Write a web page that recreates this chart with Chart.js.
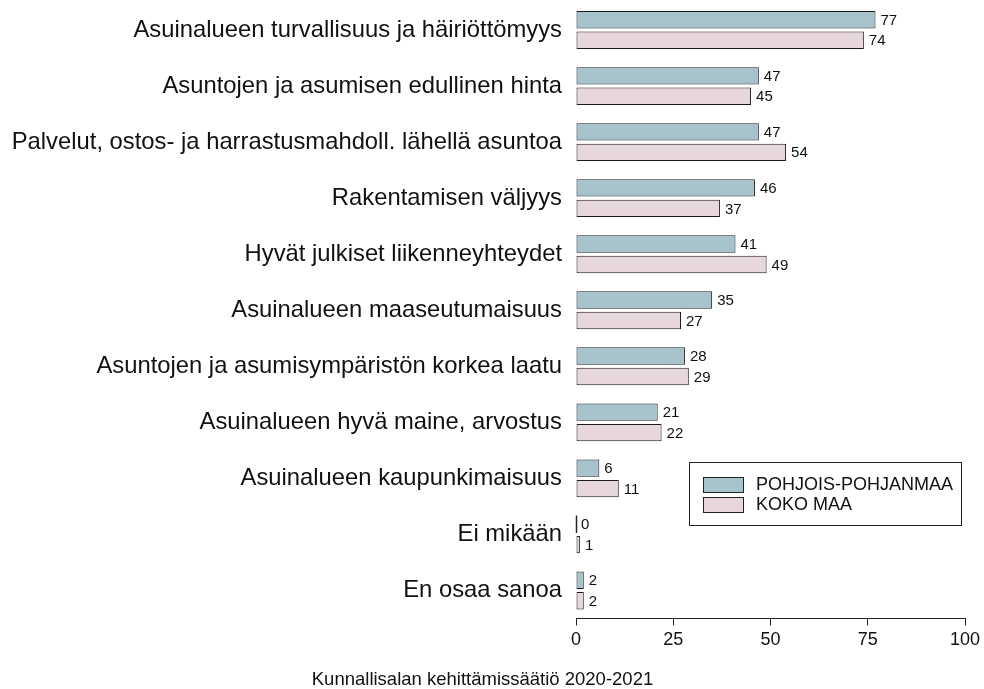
<!DOCTYPE html>
<html>
<head>
<meta charset="utf-8">
<script src="https://cdn.jsdelivr.net/npm/chart.js@4"></script>
<style>
  body { margin: 0; background: #fff; }
  #wrap { width: 984px; height: 689px; }
</style>
</head>
<body>
<div id="wrap"><canvas id="barChart" width="984" height="689"></canvas></div>
<script>
var categories = [
    'Asuinalueen turvallisuus ja häiriöttömyys',
    'Asuntojen ja asumisen edullinen hinta',
    'Palvelut, ostos- ja harrastusmahdoll. lähellä asuntoa',
    'Rakentamisen väljyys',
    'Hyvät julkiset liikenneyhteydet',
    'Asuinalueen maaseutumaisuus',
    'Asuntojen ja asumisympäristön korkea laatu',
    'Asuinalueen hyvä maine, arvostus',
    'Asuinalueen kaupunkimaisuus',
    'Ei mikään',
    'En osaa sanoa'
];
var seriesNames = ['POHJOIS-POHJANMAA', 'KOKO MAA'];
var pohjoisPohjanmaa = [77, 47, 47, 46, 41, 35, 28, 21, 6, 0, 2];
var kokoMaa = [74, 45, 54, 37, 49, 27, 29, 22, 11, 1, 2];
var xTicks = [0, 25, 50, 75, 100];
var footer = 'Kunnallisalan kehittämissäätiö 2020-2021';

var FONT = "'Liberation Sans', Arial, sans-serif";

// value labels at the end of each bar (zero bars get a thin line)
var valueLabels = {
    id: 'valueLabels',
    afterDatasetsDraw: function (chart) {
        var ctx = chart.ctx;
        ctx.save();
        ctx.font = '15px ' + FONT;
        ctx.textBaseline = 'middle';
        ctx.textAlign = 'left';
        chart.data.datasets.forEach(function (ds, i) {
            chart.getDatasetMeta(i).data.forEach(function (bar, j) {
                if (ds.data[j] === 0) {
                    ctx.strokeStyle = '#222';
                    ctx.lineWidth = 1.5;
                    ctx.beginPath();
                    ctx.moveTo(bar.x + 0.5, bar.y - bar.height / 2);
                    ctx.lineTo(bar.x + 0.5, bar.y + bar.height / 2);
                    ctx.stroke();
                }
                ctx.fillStyle = '#111';
                ctx.fillText(String(ds.data[j]), bar.x + 5, bar.y + 1);
            });
        });
        ctx.restore();
    }
};

// boxed legend in the lower right
var boxLegend = {
    id: 'boxLegend',
    afterDraw: function (chart) {
        var ctx = chart.ctx;
        ctx.save();
        ctx.strokeStyle = '#222';
        ctx.lineWidth = 1;
        ctx.strokeRect(689.5, 462.5, 272, 63);
        ctx.font = '18px ' + FONT;
        ctx.textBaseline = 'middle';
        chart.data.datasets.forEach(function (ds, i) {
            var y = 477.5 + i * 20;
            ctx.fillStyle = ds.backgroundColor;
            ctx.fillRect(703.5, y, 40, 15);
            ctx.strokeStyle = '#222';
            ctx.strokeRect(703.5, y, 40, 15);
            ctx.fillStyle = '#111';
            ctx.fillText(ds.label, 756, y + 8);
        });
        ctx.restore();
    }
};

document.addEventListener('DOMContentLoaded', function () {
    var ctx = document.getElementById('barChart').getContext('2d');
    new Chart(ctx, {
        type: 'bar',
        data: {
            labels: categories,
            datasets: [{
                label: seriesNames[0],
                data: pohjoisPohjanmaa,
                backgroundColor: '#a6c3cc',
                borderColor: '#1a1a1a',
                borderWidth: 1,
                borderSkipped: false
            }, {
                label: seriesNames[1],
                data: kokoMaa,
                backgroundColor: '#e7d6db',
                borderColor: '#1a1a1a',
                borderWidth: 1,
                borderSkipped: false
            }]
        },
        options: {
            indexAxis: 'y',
            responsive: false,
            animation: false,
            categoryPercentage: 0.73,
            barPercentage: 0.85,
            layout: { padding: { top: 2, right: 19, left: 0, bottom: 0 } },
            plugins: {
                legend: { display: false },
                tooltip: { enabled: false },
                title: {
                    display: true,
                    position: 'bottom',
                    text: footer,
                    color: '#111',
                    font: { family: FONT, size: 18.5, weight: 'normal', lineHeight: 1 },
                    padding: { top: 10, bottom: 0 }
                }
            },
            scales: {
                x: {
                    min: 0,
                    max: 100,
                    afterBuildTicks: function (scale) {
                        scale.ticks = xTicks.map(function (v) { return { value: v }; });
                    },
                    afterFit: function (scale) {
                        scale.height = 42;
                        scale.paddingLeft = 0;
                        scale.paddingRight = 0;
                    },
                    grid: { drawOnChartArea: false, drawTicks: true, tickLength: 7, color: '#222' },
                    border: { display: true, color: '#222' },
                    ticks: {
                        color: '#111',
                        padding: 4,
                        maxRotation: 0,
                        font: { family: FONT, size: 18 }
                    }
                },
                y: {
                    afterFit: function (scale) {
                        scale.width = 576;
                        scale.paddingTop = 0;
                        scale.paddingBottom = 0;
                    },
                    grid: { display: false },
                    border: { display: false },
                    ticks: {
                        color: '#111',
                        padding: 6,
                        font: { family: FONT, size: 23.8 }
                    }
                }
            }
        },
        plugins: [valueLabels, boxLegend]
    });
});
</script>
</body>
</html>
